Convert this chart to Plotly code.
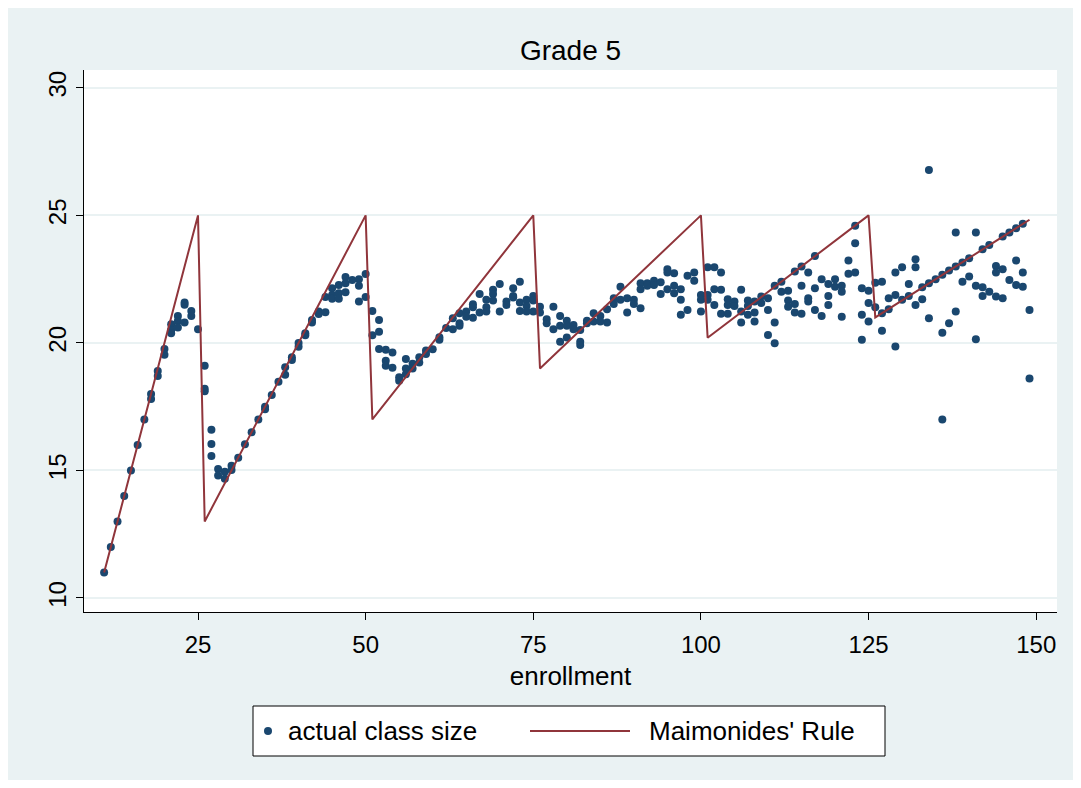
import plotly.graph_objects as go

# ---- data ----
enrollment = [
    11, 12, 13, 14, 15, 16, 17, 18, 18, 19, 19, 20, 20,
    21, 21, 21, 22, 22, 22, 23, 23, 23, 24, 24, 25,
    26, 26, 26, 27, 27, 27, 28, 28, 29, 29, 30, 30,
    31, 32, 33, 34, 35, 35, 36, 37, 38, 38, 39, 39, 40, 40,
    41, 41, 42, 42, 43, 43, 44, 44, 45, 45, 45, 46, 46, 46,
    47, 47, 47, 48, 49, 49, 49, 50, 50,
    51, 51, 52, 52, 52, 53, 53, 53, 54, 54, 55, 55,
    56, 56, 56, 57, 57, 58, 58, 59, 59, 60,
    61, 61, 62, 63, 63, 64, 64, 64, 65, 65,
    66, 66, 66, 67, 67, 68, 68, 68, 69, 69, 69, 70, 70,
    71, 71, 72, 72, 72, 73, 73, 73, 74, 74, 74, 75, 75, 75,
    76, 76, 77, 77, 78, 78, 79, 79, 79, 80, 80, 80,
    81, 81, 82, 82, 82, 83, 83, 84, 84, 85, 85,
    86, 86, 87, 87, 88, 88, 89, 89, 90, 90,
    91, 91, 91, 92, 92, 93, 93, 94, 94, 95, 95, 95,
    96, 96, 96, 97, 97, 97, 98, 98, 99, 99, 100, 100, 100,
    101, 101, 101, 102, 102, 102, 103, 103, 103, 104, 104, 104, 105, 105,
    106, 106, 106, 107, 107, 107, 108, 108, 108, 109, 109, 110, 110, 110,
    111, 111, 111, 112, 112, 113, 113, 113, 114, 114, 114, 115, 115, 115,
    116, 116, 116, 117, 117, 117, 118, 118, 119, 119, 119, 120, 120,
    121, 121, 121, 122, 122, 123, 123, 123, 124, 124, 124, 125, 125, 125,
    126, 126, 127, 127, 127, 128, 128, 129, 129, 129, 130, 130,
    131, 131, 132, 132, 132, 133, 133, 134, 134, 134, 135,
    136, 136, 136, 137, 137, 138, 138, 138, 139, 139, 140, 140,
    141, 141, 141, 142, 142, 142, 143, 143, 144, 144, 144, 145, 145, 145,
    146, 146, 147, 147, 147, 148, 148, 148, 149, 149,
]

class_size = [
    11.0, 12.0, 13.0, 14.0, 15.0, 16.0, 17.0, 18.0, 17.8, 18.9, 18.7, 19.76, 19.54,
    20.73, 20.5, 20.38, 21.06, 20.86, 20.6, 21.58, 21.5, 20.8, 21.25, 21.06, 20.54,
    19.1, 18.2, 18.1, 16.6, 16.04, 15.57, 15.06, 14.8, 14.95, 14.67, 15.18, 15.02,
    15.5, 16.03, 16.5, 17.0, 17.5, 17.4, 17.96, 18.48, 19.05, 18.75, 19.44, 19.33, 20.0, 19.85,
    20.38, 20.3, 20.9, 20.8, 21.23, 21.13, 21.8, 21.2, 22.14, 21.88, 21.73, 22.27, 21.95, 21.73,
    22.58, 22.34, 21.99, 22.47, 22.5, 22.24, 21.62, 22.7, 21.8,
    21.25, 20.3, 20.9, 20.44, 19.76, 19.73, 19.3, 19.1, 19.62, 19.03, 18.65, 18.52,
    19.37, 19.0, 18.77, 19.18, 19.0, 19.44, 19.23, 19.7, 19.57, 19.75,
    20.22, 20.12, 20.58, 20.97, 20.54, 21.16, 20.77, 20.67, 21.23, 21.03,
    21.52, 21.4, 20.99, 21.92, 21.19, 21.69, 21.4, 21.23, 22.08, 21.92, 21.66, 22.31, 21.23,
    21.62, 21.49, 22.14, 21.84, 21.78, 22.4, 21.58, 21.25, 21.69, 21.45, 21.23, 21.84, 21.66, 21.23,
    21.42, 21.19, 20.93, 20.77, 21.42, 20.54, 21.06, 20.67, 20.05, 20.87, 20.67, 20.21,
    20.7, 20.54, 20.51, 20.05, 19.92, 20.87, 20.77, 21.16, 20.84, 21.06, 20.84,
    21.32, 20.8, 21.75, 21.53, 22.2, 21.69, 21.75, 21.19, 21.69, 21.53,
    22.34, 22.1, 21.36, 22.34, 22.24, 22.44, 22.27, 22.38, 21.92, 22.89, 22.76, 22.1,
    22.73, 22.24, 21.95, 22.1, 21.69, 21.1, 22.63, 21.29, 22.76, 22.44, 21.88, 21.69, 21.23,
    22.97, 21.88, 21.69, 22.97, 22.1, 21.49, 22.76, 22.08, 21.14, 21.71, 21.49, 21.14, 21.62, 21.45,
    22.08, 21.23, 20.8, 21.66, 21.45, 21.1, 21.62, 21.19, 20.84, 21.82, 21.56, 21.75, 21.29, 20.31,
    22.24, 20.8, 19.99, 22.4, 22.01, 22.05, 21.66, 21.42, 22.8, 21.53, 21.19, 23.0, 22.24, 21.14,
    22.76, 21.75, 21.62, 23.41, 22.14, 21.29, 22.5, 21.06, 22.31, 21.84, 21.49, 22.5, 22.2,
    22.24, 22.01, 21.03, 23.23, 22.71, 24.59, 23.91, 22.76, 22.14, 21.1, 20.12, 22.05, 21.56, 20.84,
    22.36, 21.4, 22.4, 21.16, 20.48, 21.75, 21.32, 22.76, 21.88, 19.86, 22.97, 21.69,
    22.31, 21.84, 23.28, 22.97, 21.49, 22.18, 21.71, 26.78, 22.34, 20.97, 22.5,
    22.67, 20.4, 17.0, 22.84, 20.77, 24.33, 23.0, 21.23, 23.15, 22.4, 23.32, 22.6,
    24.33, 22.24, 20.14, 23.67, 22.18, 21.84, 23.84, 22.01, 23.02, 22.76, 21.82, 24.17, 22.89, 21.75,
    24.33, 22.47, 24.5, 23.23, 22.27, 24.67, 22.76, 22.2, 21.29, 18.6,
]

rule_enrollment = [11, 25, 26, 50, 51, 75, 76, 100, 101, 125, 126, 149]
rule_size = [11, 25, 13, 25, 17, 25, 19, 25, 20.2, 25, 21, 24.83]

series_names = ["actual class size", "Maimonides' Rule"]
x_ticks = [25, 50, 75, 100, 125, 150]
y_ticks = [10, 15, 20, 25, 30]

# ---- styling ----
BG = "#EAF2F3"
NAVY = "#1A476F"
MAROON = "#90353B"
FONT = "Liberation Sans, Arial, Helvetica, sans-serif"

W, H = 1065, 772            # page body has an 8px white margin
ML, MR, MT, MB = 76, 16, 62, 168
PW = W - ML - MR
PH = H - MT - MB


def px(fx):   # figure pixel x -> paper x
    return (fx - ML) / PW


def py(fy):   # figure pixel y -> paper y
    return (H - MB - fy) / PH


fig = go.Figure()
fig.add_trace(go.Scatter(
    x=enrollment, y=class_size, mode="markers", name=series_names[0],
    marker=dict(color=NAVY, size=8, line=dict(width=0)), showlegend=False,
))
fig.add_trace(go.Scatter(
    x=rule_enrollment, y=rule_size, mode="lines", name=series_names[1],
    line=dict(color=MAROON, width=2), showlegend=False,
))

# ---- legend box (Stata style) ----
leg_cy = py(723)
shapes = [
    dict(type="rect", xref="paper", yref="paper",
         x0=px(245), x1=px(877), y0=py(748), y1=py(698),
         fillcolor="white", line=dict(color="black", width=1), layer="above"),
    dict(type="circle", xref="paper", yref="paper", xsizemode="pixel", ysizemode="pixel",
         xanchor=px(260), yanchor=leg_cy, x0=-4, x1=4, y0=-4, y1=4,
         fillcolor=NAVY, line=dict(width=0), layer="above"),
    dict(type="line", xref="paper", yref="paper",
         x0=px(522), x1=px(622), y0=leg_cy, y1=leg_cy,
         line=dict(color=MAROON, width=2), layer="above"),
]
annotations = [
    dict(text=series_names[0], xref="paper", yref="paper", x=px(278), y=leg_cy,
         xanchor="left", yanchor="middle", showarrow=False,
         font=dict(family=FONT, size=26, color="black")),
    dict(text=series_names[1], xref="paper", yref="paper", x=px(639), y=leg_cy,
         xanchor="left", yanchor="middle", showarrow=False,
         font=dict(family=FONT, size=26, color="black")),
]

fig.update_layout(
    width=W, height=H,
    paper_bgcolor=BG, plot_bgcolor="white",
    margin=dict(l=ML, r=MR, t=MT, b=MB),
    font=dict(family=FONT, size=24, color="black"),
    title=dict(text="Grade 5", x=0.5, xref="paper", y=1 - 42 / H,
               yanchor="middle", xanchor="center",
               font=dict(family=FONT, size=28, color="black")),
    showlegend=False,
    shapes=shapes,
    annotations=annotations,
)
fig.update_xaxes(
    range=[8, 153.1], tickvals=x_ticks, ticks="outside", ticklen=7,
    tickcolor="black", showline=True, linecolor="black", linewidth=1,
    showgrid=False, zeroline=False, ticklabelstandoff=4,
    title=dict(text="enrollment", standoff=10, font=dict(size=26)),
    tickfont=dict(size=24),
)
fig.update_yaxes(
    range=[9.45, 30.7], tickvals=y_ticks, ticks="outside", ticklen=7,
    tickcolor="black", showline=True, linecolor="black", linewidth=1,
    showgrid=True, gridcolor=BG, gridwidth=2, zeroline=False,
    tickangle=-90, tickfont=dict(size=24),
)

fig.write_html("out.html")
